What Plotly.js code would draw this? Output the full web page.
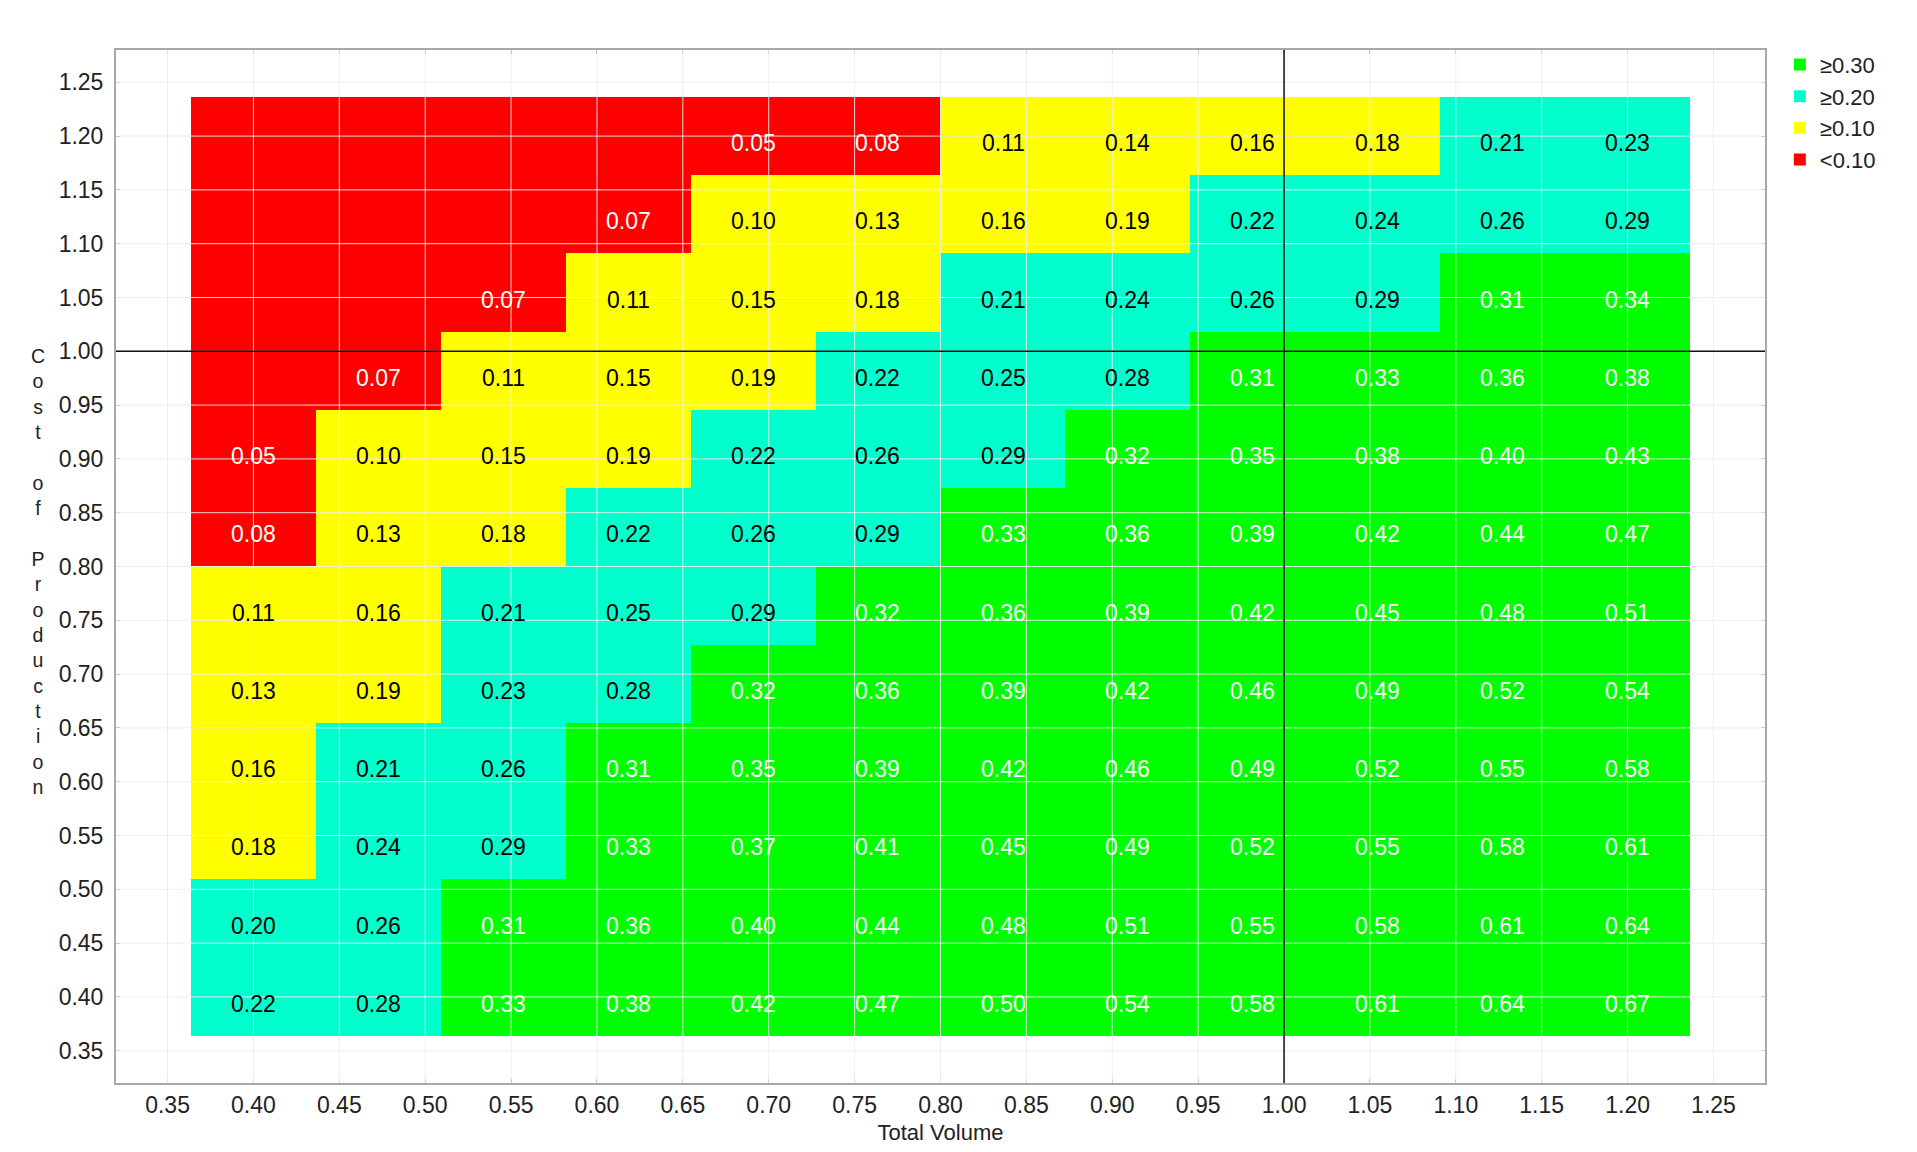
<!DOCTYPE html>
<html>
<head>
<meta charset="utf-8">
<script src="https://cdn.plot.ly/plotly-3.0.1.min.js"></script>
<style>html,body{margin:0;padding:0;background:#fff;}#chart{width:1917px;height:1152px;}</style>
</head>
<body>
<div id="chart"></div>
<script>
// Column centres (Total Volume) and row centres (Cost of Production)
const totalVolume = [0.4000, 0.4727, 0.5455, 0.6182, 0.6909, 0.7636, 0.8364, 0.9091, 0.9818, 1.0545, 1.1273, 1.2000];
const costOfProduction = [0.4000, 0.4727, 0.5455, 0.6182, 0.6909, 0.7636, 0.8364, 0.9091, 0.9818, 1.0545, 1.1273, 1.2000];

// Cell values, one row per Cost of Production level (bottom to top); null = no label shown
const row040 = [0.22, 0.28, 0.33, 0.38, 0.42, 0.47, 0.50, 0.54, 0.58, 0.61, 0.64, 0.67];
const row047 = [0.20, 0.26, 0.31, 0.36, 0.40, 0.44, 0.48, 0.51, 0.55, 0.58, 0.61, 0.64];
const row055 = [0.18, 0.24, 0.29, 0.33, 0.37, 0.41, 0.45, 0.49, 0.52, 0.55, 0.58, 0.61];
const row062 = [0.16, 0.21, 0.26, 0.31, 0.35, 0.39, 0.42, 0.46, 0.49, 0.52, 0.55, 0.58];
const row069 = [0.13, 0.19, 0.23, 0.28, 0.32, 0.36, 0.39, 0.42, 0.46, 0.49, 0.52, 0.54];
const row076 = [0.11, 0.16, 0.21, 0.25, 0.29, 0.32, 0.36, 0.39, 0.42, 0.45, 0.48, 0.51];
const row084 = [0.08, 0.13, 0.18, 0.22, 0.26, 0.29, 0.33, 0.36, 0.39, 0.42, 0.44, 0.47];
const row091 = [0.05, 0.10, 0.15, 0.19, 0.22, 0.26, 0.29, 0.32, 0.35, 0.38, 0.40, 0.43];
const row098 = [null, 0.07, 0.11, 0.15, 0.19, 0.22, 0.25, 0.28, 0.31, 0.33, 0.36, 0.38];
const row105 = [null, null, 0.07, 0.11, 0.15, 0.18, 0.21, 0.24, 0.26, 0.29, 0.31, 0.34];
const row113 = [null, null, null, 0.07, 0.10, 0.13, 0.16, 0.19, 0.22, 0.24, 0.26, 0.29];
const row120 = [null, null, null, null, 0.05, 0.08, 0.11, 0.14, 0.16, 0.18, 0.21, 0.23];
const values = [row040, row047, row055, row062, row069, row076, row084, row091, row098, row105, row113, row120];

// Threshold classes
const classNames = ['<0.10', '≥0.10', '≥0.20', '≥0.30'];
const classThresholds = [-Infinity, 0.10, 0.20, 0.30];
const classColors = ['#FF0000', '#FFFF00', '#00FFCC', '#00FF00'];
const classTextColors = ['#FFFFFF', '#000000', '#000000', '#FFFFFF'];

// Axis ticks
const xTicks = [0.35, 0.40, 0.45, 0.50, 0.55, 0.60, 0.65, 0.70, 0.75, 0.80, 0.85, 0.90, 0.95, 1.00, 1.05, 1.10, 1.15, 1.20, 1.25];
const yTicks = [0.35, 0.40, 0.45, 0.50, 0.55, 0.60, 0.65, 0.70, 0.75, 0.80, 0.85, 0.90, 0.95, 1.00, 1.05, 1.10, 1.15, 1.20, 1.25];
const refX = 1.00, refY = 1.00;

function classOf(v) {
  if (v === null) return 0;
  let c = 0;
  for (let k = 0; k < classThresholds.length; k++) if (v >= classThresholds[k]) c = k;
  return c;
}

const zClass = values.map(r => r.map(classOf));
const n = classColors.length;
const colorscale = [];
classColors.forEach((c, k) => { colorscale.push([k / n, c]); colorscale.push([(k + 1) / n, c]); });

const FONT = 'Liberation Sans, Arial, sans-serif';
const traces = [{
  type: 'heatmap',
  x: totalVolume, y: costOfProduction, z: zClass,
  zmin: -0.5, zmax: n - 0.5,
  colorscale: colorscale, showscale: false, hoverinfo: 'skip', showlegend: false
}];
// legend entries (top to bottom: ≥0.30, ≥0.20, ≥0.10, <0.10)
for (let k = n - 1; k >= 0; k--) {
  traces.push({
    type: 'scatter', mode: 'markers', x: [null], y: [null], name: classNames[k],
    marker: {symbol: 'square', size: 12, color: classColors[k]}, showlegend: true, hoverinfo: 'skip'
  });
}

const annotations = [];
values.forEach((row, i) => row.forEach((v, j) => {
  if (v === null) return;
  annotations.push({
    x: totalVolume[j], y: costOfProduction[i], xref: 'x', yref: 'y',
    text: v.toFixed(2), showarrow: false, yshift: -7,
    font: {family: FONT, size: 23, color: classTextColors[classOf(v)]}
  });
}));
// vertical, letter-stacked y-axis title
const yTitle = 'Cost of Production';
annotations.push({
  xref: 'paper', yref: 'paper', x: -0.0475, y: 0.495, xanchor: 'center', yanchor: 'middle',
  text: yTitle.split('').map(ch => ch === ' ' ? '\u00a0' : ch).join('<br>'),
  showarrow: false, font: {family: FONT, size: 19.5, color: '#222'}
});

const shapes = [];
xTicks.forEach(t => shapes.push({type: 'line', xref: 'x', yref: 'paper', x0: t, x1: t, y0: 0, y1: 1, layer: 'above', line: {color: 'rgba(236,236,236,0.9)', width: 1}}));
yTicks.forEach(t => shapes.push({type: 'line', xref: 'paper', yref: 'y', x0: 0, x1: 1, y0: t, y1: t, layer: 'above', line: {color: 'rgba(236,236,236,0.9)', width: 1}}));
shapes.push({type: 'line', xref: 'x', yref: 'paper', x0: refX, x1: refX, y0: 0, y1: 1, layer: 'above', line: {color: '#111', width: 1.5}});
shapes.push({type: 'line', xref: 'paper', yref: 'y', x0: 0, x1: 1, y0: refY, y1: refY, layer: 'above', line: {color: '#111', width: 1.5}});

const axisCommon = {
  showgrid: false, zeroline: false, showline: true, mirror: 'ticks', linecolor: '#a8a8a8', linewidth: 2,
  ticks: 'inside', ticklen: 4, tickcolor: '#a8a8a8', tickformat: '.2f',
  tickfont: {family: FONT, size: 23, color: '#222'}
};
const layout = {
  width: 1917, height: 1152,
  margin: {l: 116, r: 152, t: 50, b: 69},
  paper_bgcolor: '#fff', plot_bgcolor: '#fff',
  font: {family: FONT, size: 23, color: '#222'},
  xaxis: Object.assign({}, axisCommon, {range: [0.32, 1.28], tickmode: 'array', tickvals: xTicks, ticklabelstandoff: 0,
    title: {text: 'Total Volume', font: {family: FONT, size: 22, color: '#222'}, standoff: 8}}),
  yaxis: Object.assign({}, axisCommon, {range: [0.32, 1.28], tickmode: 'array', tickvals: yTicks, ticklabelstandoff: 6}),
  showlegend: true,
  legend: {x: 1.009, y: 1.006, xanchor: 'left', yanchor: 'top', font: {family: FONT, size: 22, color: '#222'},
    bgcolor: 'rgba(0,0,0,0)', borderwidth: 0, itemwidth: 30, tracegroupgap: 0},
  annotations: annotations,
  shapes: shapes
};
Plotly.newPlot('chart', traces, layout, {staticPlot: true});
</script>
</body>
</html>
